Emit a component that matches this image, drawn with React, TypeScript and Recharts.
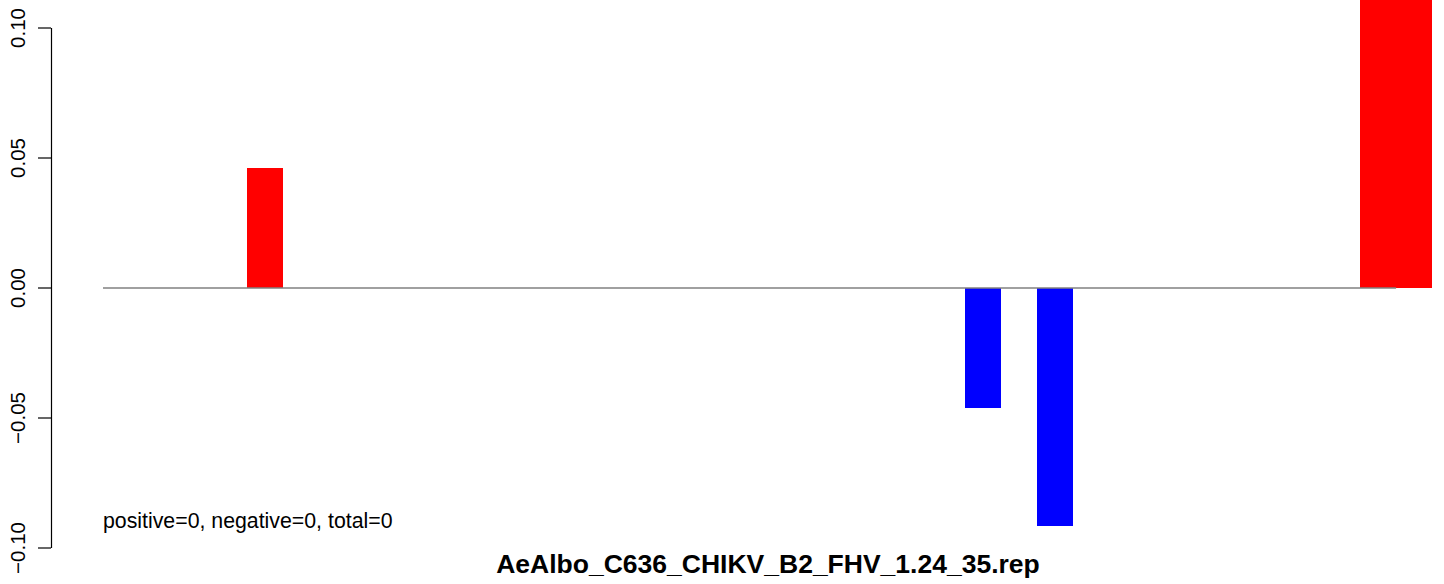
import React from 'react';
import { BarChart, Bar, XAxis, YAxis, ReferenceLine, Cell } from 'recharts';

// positions (bins) along the x axis
const positions: number[] = Array.from({ length: 37 }, (_, i) => i + 1);
// values (0 where no bar is drawn); the last two run off the top
const values: number[] = [
  0, 0, 0, 0, 0.046, 0, 0, 0, 0, 0,
  0, 0, 0, 0, 0, 0, 0, 0, 0, 0,
  0, 0, 0, 0, -0.046, 0, -0.0915, 0, 0, 0,
  0, 0, 0, 0, 0, 0.14, 0.14,
];
const yTicks: number[] = [-0.1, -0.05, 0, 0.05, 0.1];
// visible value range of the plotting area (top edge of the picture)
const yDomain: [number, number] = [-0.1, 0.11077];
const title = 'AeAlbo_C636_CHIKV_B2_FHV_1.24_35.rep';
const note = 'positive=0, negative=0, total=0';

const data = positions.map((p, i) => ({ pos: p, value: values[i] }));

const fmt = (v: number) => (v < 0 ? '\u2212' : '') + Math.abs(v).toFixed(2);
const FONT = "'Liberation Sans', Arial, Helvetica, sans-serif";
const AXIS_PAD = 52;

const YTick = (props: any) => {
  const { x, y, payload } = props;
  const tx = x - 11;
  return (
    <text
      x={tx}
      y={y}
      transform={`rotate(-90 ${tx} ${y})`}
      textAnchor="middle"
      fontFamily={FONT}
      fontSize={20.5}
      fill="#000"
    >
      {fmt(payload.value)}
    </text>
  );
};

const AxisLineShape = (props: any) => {
  const { x1, y1, x2, y2 } = props;
  return (
    <line
      x1={x1 - AXIS_PAD + 0.5}
      x2={x2 - AXIS_PAD + 0.5}
      y1={y1}
      y2={y2}
      stroke="#000"
      strokeWidth={1.2}
    />
  );
};

export default function App() {
  return (
    <div style={{ position: 'absolute', left: 0, top: 0, width: 1444, height: 584, background: '#fff' }}>
      <BarChart
        width={1444}
        height={584}
        data={data}
        margin={{ top: 0, right: 12, bottom: 36, left: 0 }}
        barCategoryGap={0}
        barGap={0}
      >
        <XAxis dataKey="pos" hide padding={{ left: AXIS_PAD, right: 0 }} />
        <YAxis
          width={51}
          domain={yDomain}
          allowDataOverflow
          ticks={yTicks}
          interval={0}
          tickSize={13}
          tickLine={{ stroke: '#000', strokeWidth: 1.2 }}
          axisLine={false}
          tick={<YTick />}
        />
        <ReferenceLine
          segment={[{ x: positions[0], y: yTicks[0] }, { x: positions[0], y: yTicks[yTicks.length - 1] }]}
          position="start"
          shape={AxisLineShape}
          ifOverflow="visible"
        />
        <ReferenceLine
          segment={[{ x: positions[0], y: 0 }, { x: positions[positions.length - 1], y: 0 }]}
          position="start"
          stroke="#808080"
          strokeWidth={1.3}
        />
        <Bar dataKey="value" isAnimationActive={false}>
          {data.map((d, i) => (
            <Cell key={i} fill={d.value >= 0 ? '#FF0000' : '#0000FF'} shapeRendering="crispEdges" />
          ))}
        </Bar>
      </BarChart>
      <svg
        width={1444}
        height={584}
        style={{ position: 'absolute', left: 0, top: 0, pointerEvents: 'none' }}
      >
        <text x={103} y={528} fontFamily={FONT} fontSize={21.3} fill="#000">
          {note}
        </text>
        <text
          x={768}
          y={573}
          textAnchor="middle"
          fontFamily={FONT}
          fontWeight="bold"
          fontSize={26.5}
          fill="#000"
        >
          {title}
        </text>
      </svg>
    </div>
  );
}
